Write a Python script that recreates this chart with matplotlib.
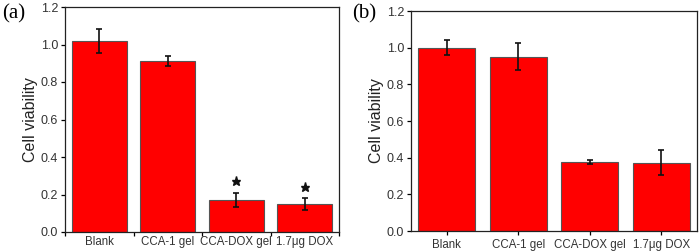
import matplotlib
matplotlib.use("Agg")
import matplotlib.pyplot as plt
import numpy as np

categories = ["Blank", "CCA-1 gel", "CCA-DOX gel", "1.7\u03bcg DOX"]
values_a = [1.02, 0.91, 0.172, 0.149]
errors_a = [0.064, 0.027, 0.038, 0.030]
stars_a = [False, False, True, True]
values_b = [1.00, 0.951, 0.375, 0.373]
errors_b = [0.040, 0.075, 0.012, 0.068]
yticks = [0.0, 0.2, 0.4, 0.6, 0.8, 1.0, 1.2]

plt.rcParams['font.family'] = ['Liberation Sans', 'DejaVu Sans']

fig = plt.figure(figsize=(7.0, 2.52), dpi=100)
ax_a = fig.add_axes([65/700, 1-232/252, 274/700, 225/252])
ax_b = fig.add_axes([411/700, 1-231/252, 286/700, 220/252])

x = np.arange(1, len(categories) + 1)

def style(ax, vals, errs, between_ticks):
    ax.bar(x, vals, width=0.8, color='#ff0000', edgecolor='#555555', linewidth=0.8, zorder=2)
    ax.errorbar(x, vals, yerr=errs, fmt='none', ecolor='#111111', elinewidth=1.2,
                capsize=2.2, capthick=1.2, zorder=3)
    ax.set_xlim(0.5, 4.5)
    ax.set_ylim(0, 1.2)
    ax.set_yticks(yticks)
    ax.set_yticklabels([f"{t:.1f}" for t in yticks], fontsize=9, color='#333333')
    if between_ticks:
        ax.set_xticks(np.arange(0.5, 4.6, 1.0))
        ax.set_xticklabels([])
        ax.set_xticks(x, minor=True)
        ax.set_xticklabels(categories, minor=True, fontsize=8.3, color='#333333')
        ax.tick_params(axis='x', which='minor', length=0, pad=3)
        ax.tick_params(axis='x', which='major', length=3, width=0.9, direction='out')
    else:
        ax.set_xticks(x)
        ax.set_xticklabels(categories, fontsize=8.3, color='#333333')
        ax.tick_params(axis='x', length=3, width=0.9, direction='out', pad=3)
    ax.tick_params(axis='y', length=3, width=0.9, direction='out', pad=2)
    ax.set_ylabel("Cell viability", fontsize=11.5, color='#222222', labelpad=2)
    for s in ax.spines.values():
        s.set_color('#222222')
        s.set_linewidth(0.9)

style(ax_a, values_a, errors_a, True)
style(ax_b, values_b, errors_b, False)

for xi, v, e, st in zip(x, values_a, errors_a, stars_a):
    if st:
        ax_a.plot([xi], [v + e + 0.06], marker='*', markersize=6.5, color='#111111',
                  linestyle='none', zorder=4)

fig.text(2/700, 1-14/252, "(a)", fontsize=15, family='Liberation Serif', va='center', ha='left')
fig.text(352/700, 1-14/252, "(b)", fontsize=15, family='Liberation Serif', va='center', ha='left')

fig.savefig("out.png", dpi=100)
